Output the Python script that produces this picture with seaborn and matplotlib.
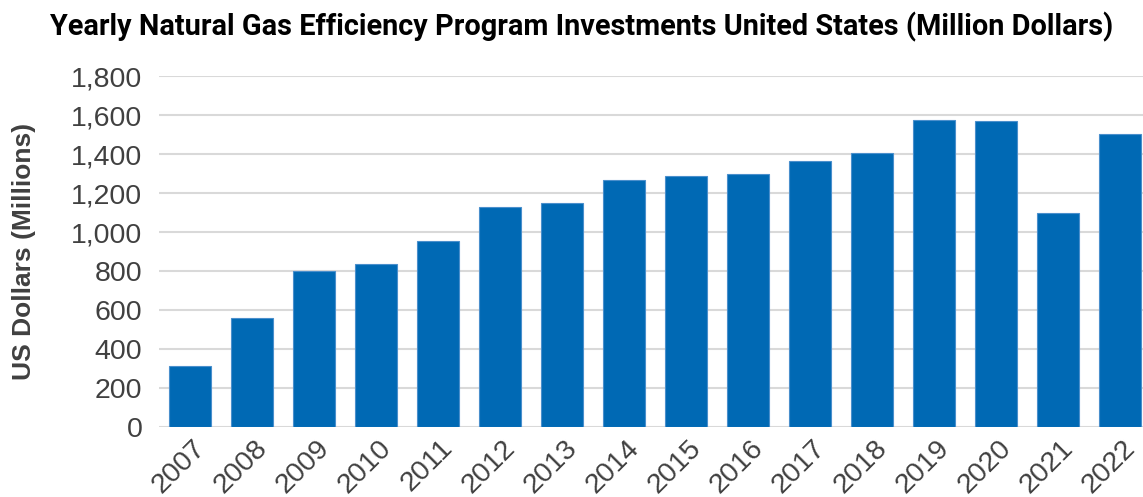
import matplotlib
matplotlib.use("Agg")
import matplotlib.pyplot as plt
import matplotlib.transforms as mtransforms
import seaborn as sns
import pandas as pd

# Data
years = ["2007", "2008", "2009", "2010", "2011", "2012", "2013", "2014",
         "2015", "2016", "2017", "2018", "2019", "2020", "2021", "2022"]
investments = [316, 560, 800, 835, 955, 1127, 1147, 1267,
               1290, 1297, 1364, 1408, 1576, 1569, 1099, 1504]
y_ticks = [0, 200, 400, 600, 800, 1000, 1200, 1400, 1600, 1800]

df = pd.DataFrame({"year": years, "value": investments})

sns.set_theme(style="white")
plt.rcParams["font.family"] = ["Liberation Sans", "DejaVu Sans"]

BAR_COLOR = "#0069B4"
TEXT_GRAY = "#404040"

fig = plt.figure(figsize=(11.43, 4.97), dpi=100)
ax = fig.add_axes([159 / 1143, 69.7 / 497, 992 / 1143, 351.3 / 497])

sns.barplot(data=df, x="year", y="value", color=BAR_COLOR, width=0.686,
            saturation=1, edgecolor="#4A8FCC", linewidth=0.8, ax=ax, zorder=3)

ax.set_xlim(-0.5, len(years) - 0.5)
ax.set_ylim(0, 1800)
ax.set_yticks(y_ticks)
ax.set_yticklabels([f"{v:,}" for v in y_ticks])
ax.yaxis.grid(True, color="#D9D9D9", linewidth=1.5, zorder=0)
ax.set_axisbelow(True)
for s in ax.spines.values():
    s.set_visible(False)

ax.tick_params(axis="y", length=0, pad=12, labelsize=20.5, labelcolor=TEXT_GRAY)
ax.tick_params(axis="x", length=0, labelbottom=False)

# rotated year labels, baseline-right anchored below each category
lbl_trans = mtransforms.blended_transform_factory(ax.transData, ax.transAxes)
lbl_trans = lbl_trans + mtransforms.ScaledTranslation(16 / 100, -22 / 100,
                                                      fig.dpi_scale_trans)
for i, yr in enumerate(years):
    ax.text(i, 0, yr, transform=lbl_trans, rotation=45, rotation_mode="anchor",
            ha="right", va="baseline", fontsize=20.5, color=TEXT_GRAY, clip_on=False)

ax.set_xlabel("")
ax.set_ylabel("US Dollars (Millions)", fontsize=19, fontweight="bold",
              color=TEXT_GRAY)
ax.yaxis.set_label_coords(-123 / 992, 0.5)

fig.text(582 / 1143, 1 - 27 / 497,
         "Yearly Natural Gas Efficiency Program Investments United States (Million Dollars)",
         ha="center", va="center", fontsize=20.8, fontweight="bold", color="black",
         family=["Roboto", "DejaVu Sans"])

fig.savefig("out.png", dpi=100)
